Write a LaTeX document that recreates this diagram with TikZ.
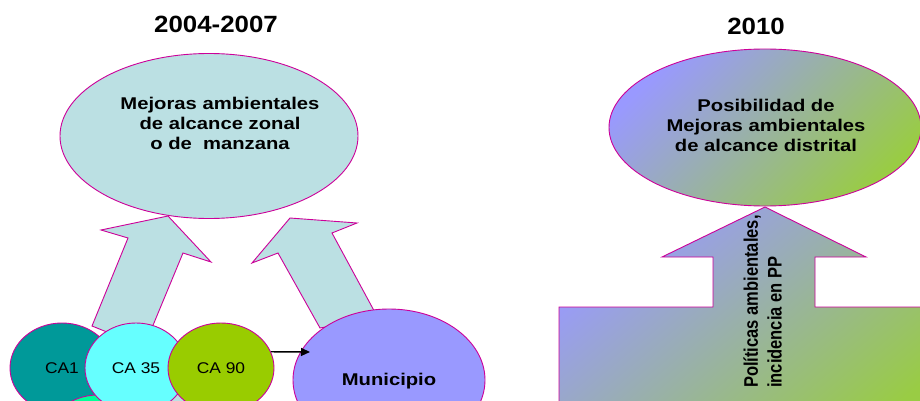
\documentclass[tikz,border=0pt]{standalone}
\usepackage{fontspec}
\setmainfont{Liberation Sans}
\usepackage{graphicx}
\usetikzlibrary{arrows.meta,shapes.geometric}
\definecolor{edgec}{RGB}{204,0,153}
\definecolor{paleblue}{RGB}{187,224,227}
\definecolor{tealc}{RGB}{0,153,153}
\definecolor{cyanc}{RGB}{102,255,255}
\definecolor{limec}{RGB}{153,204,0}
\definecolor{violetc}{RGB}{153,153,255}
\definecolor{springc}{RGB}{0,255,153}
\definecolor{gradA}{RGB}{153,153,255}
\definecolor{gradB}{RGB}{153,204,68}
\newcommand{\stx}[2]{\scalebox{#1}[1]{#2}}
\begin{document}
\begin{tikzpicture}[x=1pt,y=-1pt,
  shapeline/.style={draw=edgec, line width=0.9pt},
  ell/.style={ellipse, shapeline, inner sep=0pt},
  txt/.style={inner sep=0pt, text=black},
  boldtxt/.style={txt, font=\fontsize{17}{20}\selectfont\bfseries},
  catxt/.style={txt, font=\fontsize{15.5}{18}\selectfont},
  titletxt/.style={txt, font=\fontsize{23.5}{26}\selectfont\bfseries},
  grad/.style={top color=gradA, bottom color=gradB, shading angle=#1}
]
\useasboundingbox (0,0) rectangle (920,401);
\clip (0,0) rectangle (920,401);

% titles
\node[titletxt] (t1) at (216,24) {\stx{1.1}{2004-2007}};
\node[titletxt] (t2) at (756,26) {\stx{1.1}{2010}};

% left part: arrows
\draw[shapeline, fill=paleblue] (168,216) -- (211,262) -- (183,253) -- (144,347)
  -- (92,326) -- (128,238) -- (101,230) -- cycle;
\draw[shapeline, fill=paleblue] (290,218) -- (357,223) -- (332,233) -- (378,318)
  -- (320,328) -- (278,253) -- (252,263) -- cycle;

% left big ellipse
\node[ell, fill=paleblue, minimum width=298pt, minimum height=165pt] (zonal) at (209,136) {};
\node[boldtxt] (zonaltxt) at (220,125) {\stx{1.19}{\begin{tabular}{@{}c@{}}Mejoras ambientales\\ de alcance zonal\\ o de\ \ manzana\end{tabular}}};

% small ellipses
\node[ell, fill=tealc, minimum width=104pt, minimum height=90pt] (ca1) at (62,368) {};
\node[ell, fill=springc, minimum width=104pt, minimum height=90pt] (cax) at (98,440) {};
\node[ell, fill=paleblue, minimum width=80pt, minimum height=96pt] (cay) at (180,440) {};
\node[ell, fill=cyanc, minimum width=102pt, minimum height=90pt] (ca35) at (136,368) {};
\node[ell, fill=limec, minimum width=106pt, minimum height=90pt] (ca90) at (221,368) {};
\node[catxt] at (ca1) {\stx{1.12}{CA1}};
\node[catxt] at (ca35) {\stx{1.12}{CA 35}};
\node[catxt] at (ca90) {\stx{1.12}{CA 90}};

\node[ell, fill=violetc, minimum width=192pt, minimum height=142pt] (muni) at (389,380) {};
\node[boldtxt] (munitxt) at (389,381) {\stx{1.19}{Municipio}};

\coordinate (arrend) at (310,352);
\draw[-{Triangle[length=9pt,width=8pt]}, line width=1.4pt, black] (ca90.18) -- (arrend);

% right part
\draw[shapeline, grad=40] (765,207) -- (866,257) -- (815,257) -- (815,307) -- (930,307)
  -- (930,460) -- (559,460) -- (559,307) -- (713,307) -- (713,257) -- (662,257) -- cycle;
\node[ell, grad=45, minimum width=312pt, minimum height=157pt] (distrital) at (765,127.5) {};
\node[boldtxt] (distxt) at (766,128) {\stx{1.19}{\begin{tabular}{@{}c@{}}Posibilidad de\\ Mejoras ambientales\\ de alcance distrital\end{tabular}}};

\node[txt, rotate=90, anchor=west, font=\fontsize{16.5}{20}\selectfont\bfseries] (pol) at (765,388)
  {\scalebox{1}[1.19]{\begin{tabular}{@{}l@{}}Políticas ambientales,\\ incidencia en PP\end{tabular}}};
\end{tikzpicture}
\end{document}
